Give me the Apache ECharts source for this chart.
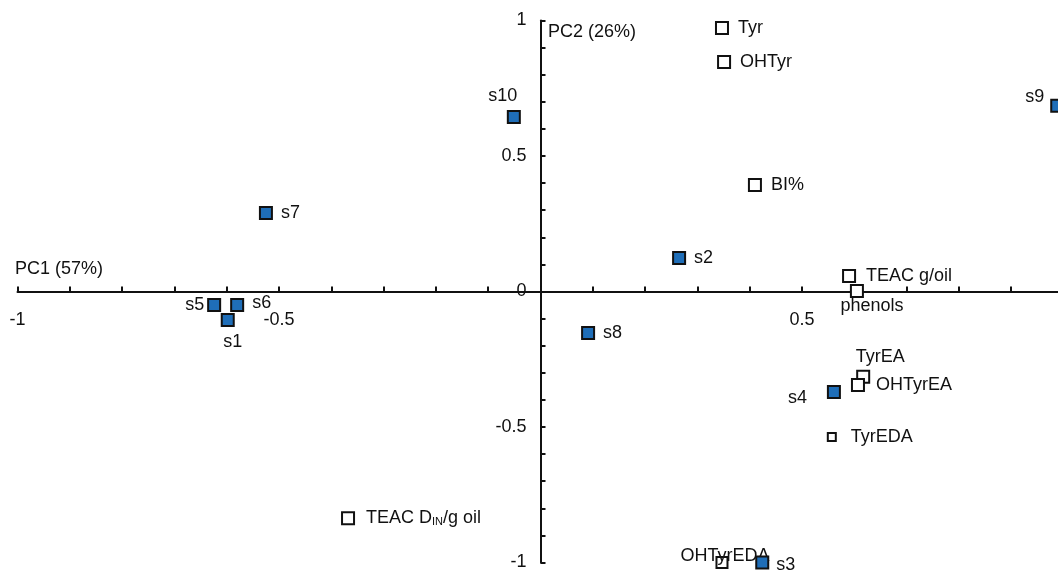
<!DOCTYPE html>
<html>
<head>
<meta charset="utf-8">
<script src="https://cdn.jsdelivr.net/npm/echarts@6/dist/echarts.min.js"></script>
<style>
  html, body { margin: 0; padding: 0; background: #fff; }
  #chart { width: 1058px; height: 571px; }
</style>
</head>
<body>
<div id="chart"></div>
<script>
// ---- Data ----
const sampleNames = ['s10', 's7', 's5', 's6', 's1', 's2', 's8', 's4', 's3', 's9'];
const sampleX = [-0.051, -0.525, -0.624, -0.580, -0.598, 0.265, 0.091, 0.561, 0.424, 0.988];
const sampleY = [0.644, 0.290, -0.050, -0.050, -0.105, 0.124, -0.153, -0.371, -1.000, 0.685];

const varNames = ['Tyr', 'OHTyr', 'BI%', 'TEAC g/oil', 'phenols', 'TyrEA', 'OHTyrEA', 'TyrEDA', 'TEAC D_IN/g oil', 'OHTyrEDA'];
const varX = [0.347, 0.351, 0.410, 0.590, 0.605, 0.617, 0.607, 0.557, -0.368, 0.347];
const varY = [0.972, 0.847, 0.393, 0.057, 0.002, -0.315, -0.345, -0.537, -0.837, -1.000];

const axisTickLabels = [-1, -0.5, 0.5, 1];
const xAxisTitle = 'PC1 (57%)';
const yAxisTitle = 'PC2 (26%)';

// ---- Label placement styles (not data) ----
const sampleLabelStyle = {
  's10': { position: 'top', offset: [-11, 0] },
  's7':  { position: 'right', distance: 8 },
  's5':  { position: 'left', distance: 3 },
  's6':  { position: 'right', distance: 8, offset: [0, -2] },
  's1':  { position: 'bottom', distance: 6, offset: [5, 0] },
  's2':  { position: 'right', distance: 8 },
  's8':  { position: 'right', distance: 8 },
  's4':  { position: 'left', distance: 20, offset: [0, 6] },
  's3':  { position: 'right', distance: 7, offset: [0, 3] },
  's9':  { position: 'left', distance: 6, offset: [0, -9] }
};
const varLabelStyle = {
  'Tyr':        { position: 'right', distance: 9 },
  'OHTyr':      { position: 'right', distance: 9 },
  'BI%':        { position: 'right', distance: 9 },
  'TEAC g/oil': { position: 'right', distance: 10 },
  'phenols':    { position: 'bottom', distance: 0, offset: [15, -1] },
  'TyrEA':      { position: 'top', distance: 4, offset: [17, 0] },
  'OHTyrEA':    { position: 'right', distance: 11 },
  'TyrEDA':     { position: 'right', distance: 14 },
  'TEAC D_IN/g oil': { position: 'right', distance: 11 },
  'OHTyrEDA':   { position: 'top', distance: 0, offset: [3, 9] }
};
const varSymbolSize = { 'TyrEDA': 8, 'OHTyrEDA': 11 };

const FONT = 'Arial, "Liberation Sans", Helvetica, sans-serif';
const TXT = '#111111';

// grid geometry (layout, px)
const GRID = { left: 17.5, right: -5.5, top: 20.5, bottom: 8.5 };
const W = 1058, H = 571;
const gridW = W - GRID.left - GRID.right;
const gridH = H - GRID.top - GRID.bottom;

function isTickLabel(v) {
  return axisTickLabels.some(t => Math.abs(t - v) < 1e-6);
}

const sampleData = sampleNames.map((n, i) => ({
  name: n,
  value: [sampleX[i], sampleY[i]],
  label: Object.assign({ show: true, formatter: n, color: TXT, opacity: 1 }, sampleLabelStyle[n])
}));

const varData = varNames.map((n, i) => {
  let fmt = n;
  if (n === 'TEAC D_IN/g oil') fmt = '{a|TEAC D}{sub|IN}{a|/g oil}';
  return {
    name: n,
    value: [varX[i], varY[i]],
    symbolSize: varSymbolSize[n] || 12,
    label: Object.assign({ show: true, formatter: fmt, color: TXT, opacity: 1 }, varLabelStyle[n])
  };
});

const chart = echarts.init(document.getElementById('chart'), null, { renderer: 'canvas' });
chart.setOption({
  animation: false,
  backgroundColor: '#ffffff',
  grid: Object.assign({ containLabel: false, outerBoundsMode: 'none' }, GRID),
  xAxis: {
    type: 'value', min: -1, max: 1, interval: 0.1,
    position: 'bottom', offset: -gridH / 2,
    axisLine: { onZero: false, lineStyle: { color: '#111', width: 2 } },
    axisTick: { show: true, inside: true, length: 5, lineStyle: { color: '#111', width: 2 } },
    axisLabel: {
      margin: 20, fontSize: 18, color: TXT, fontFamily: FONT, showMinLabel: true, showMaxLabel: true,
      hideOverlap: false,
      formatter: v => isTickLabel(v) ? String(Math.round(v * 10) / 10) : ''
    },
    splitLine: { show: false }
  },
  yAxis: {
    type: 'value', min: -1, max: 1, interval: 0.1,
    position: 'left', offset: -gridW / 2,
    axisLine: { onZero: false, lineStyle: { color: '#111', width: 2 } },
    axisTick: { show: true, inside: true, length: 5, lineStyle: { color: '#111', width: 2 } },
    axisLabel: {
      margin: 14, fontSize: 18, color: TXT, fontFamily: FONT, showMinLabel: true, showMaxLabel: true,
      hideOverlap: false,
      formatter: v => (isTickLabel(v) || Math.abs(v) < 1e-6) ? String(Math.round(v * 10) / 10) : ''
    },
    splitLine: { show: false }
  },
  graphic: [
    { type: 'text', left: 15, top: 260, style: { text: xAxisTitle, fontSize: 18, fontFamily: FONT, fill: TXT } },
    { type: 'text', left: 548, top: 23, style: { text: yAxisTitle, fontSize: 18, fontFamily: FONT, fill: TXT } }
  ],
  series: [
    {
      name: 'samples', type: 'scatter', symbol: 'rect', symbolSize: 12, clip: false,
      itemStyle: { color: '#1f6eb8', borderColor: '#111', borderWidth: 2, opacity: 1 },
      label: { fontSize: 18, color: TXT, fontFamily: FONT },
      emphasis: { disabled: true },
      data: sampleData, z: 5
    },
    {
      name: 'variables', type: 'scatter', symbol: 'rect', symbolSize: 12, clip: false,
      itemStyle: { color: '#ffffff', borderColor: '#111', borderWidth: 2, opacity: 1 },
      label: {
        fontSize: 18, color: TXT, fontFamily: FONT,
        rich: {
          a: { fontSize: 18, color: TXT, fontFamily: FONT },
          sub: { fontSize: 11, color: TXT, fontFamily: FONT, verticalAlign: 'bottom', padding: [6, 0, 0, 0] }
        }
      },
      emphasis: { disabled: true },
      data: varData, z: 4
    }
  ]
});
</script>
</body>
</html>
